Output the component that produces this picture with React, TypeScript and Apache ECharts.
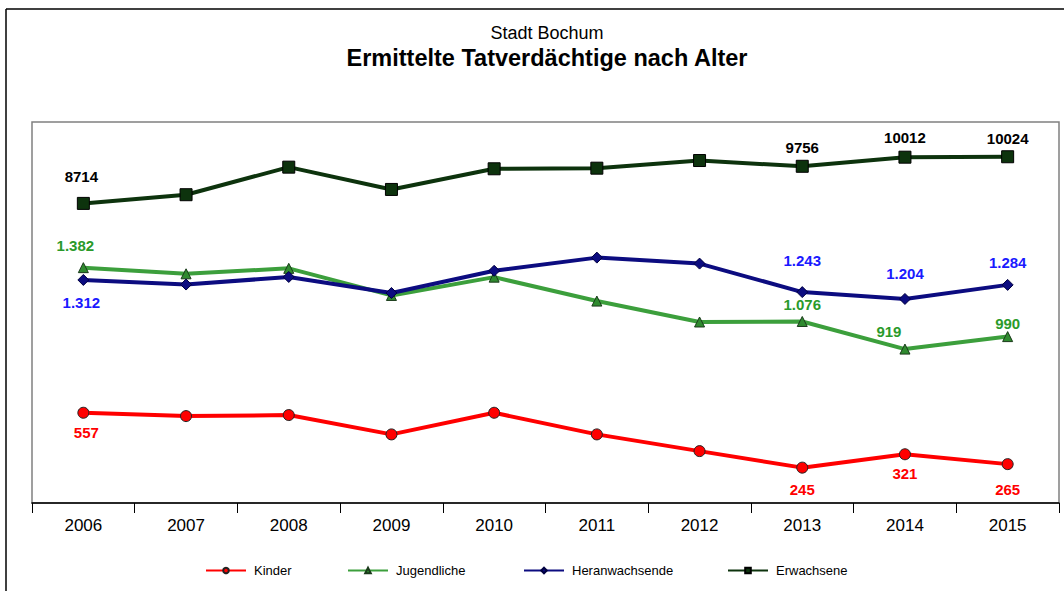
import React, { useEffect, useRef } from "react";
import * as echarts from "echarts";

const years = ["2006", "2007", "2008", "2009", "2010", "2011", "2012", "2013", "2014", "2015"];
const kinder = [557, 538, 544, 434, 557, 434, 339, 245, 321, 265];
const jugendliche = [1382, 1347, 1378, 1224, 1328, 1192, 1073, 1076, 919, 990];
const heranwachsende = [1312, 1286, 1329, 1238, 1364, 1439, 1405, 1243, 1204, 1284];
const erwachsene = [8714, 8958, 9732, 9106, 9686, 9703, 9918, 9756, 10012, 10024];
const seriesNames = ["Kinder", "Jugendliche", "Heranwachsende", "Erwachsene"];

// indices with a data label, and label offsets [dx, dy] from the point
const kinderLabels: Record<number, number[]> = { 0: [3, 20], 7: [0, 22], 8: [0, 19], 9: [0, 25] };
const jugendLabels: Record<number, number[]> = { 0: [-8, -22], 7: [0, -17], 8: [-16, -18], 9: [0, -13] };
const heranLabels: Record<number, number[]> = { 0: [-2, 23], 7: [0, -32], 8: [0, -25], 9: [0, -22] };
const erwLabels: Record<number, number[]> = { 0: [-2, -27], 7: [0, -19], 8: [0, -20], 9: [0, -18] };
const legendLefts = [205, 347, 523, 727];

const fmtDe = (v: number) => {
  const s = String(v);
  return s.length > 3 ? s.slice(0, s.length - 3) + "." + s.slice(-3) : s;
};

function buildData(values: number[], labels: Record<number, number[]>, color: string, fmt: (v: number) => string) {
  return values.map((v, i) => {
    const off = labels[i];
    if (!off) return { value: v };
    return {
      value: v,
      label: {
        show: true,
        position: "inside",
        offset: off,
        color,
        fontSize: 15,
        fontWeight: "bold",
        fontFamily: "Liberation Sans, Arial, sans-serif",
        formatter: () => fmt(v),
      },
    };
  });
}

export default function App() {
  const ref = useRef<HTMLDivElement>(null);
  useEffect(() => {
    if (!ref.current) return;
    const chart = echarts.init(ref.current, null, { renderer: "svg" });
    const font = "Liberation Sans, Arial, sans-serif";
    chart.setOption({
      animation: false,
      backgroundColor: "#ffffff",
      textStyle: { fontFamily: font },
      graphic: [
        { type: "line", shape: { x1: 6, y1: 9, x2: 1064, y2: 9 }, style: { stroke: "#000", lineWidth: 1.5 } },
        { type: "line", shape: { x1: 6, y1: 9, x2: 6, y2: 591 }, style: { stroke: "#000", lineWidth: 1.5 } },
        {
          type: "text",
          x: 547,
          y: 33,
          style: {
            text: "Stadt Bochum",
            fontSize: 18,
            fontFamily: font,
            fill: "#000",
            align: "center",
            verticalAlign: "middle",
          },
        },
        {
          type: "text",
          x: 547,
          y: 58,
          style: {
            text: "Ermittelte Tatverdächtige nach Alter",
            fontSize: 23.5,
            fontWeight: "bold",
            fontFamily: font,
            fill: "#000",
            align: "center",
            verticalAlign: "middle",
          },
        },
      ],
      legend: seriesNames.map((n, i) => ({
        left: legendLefts[i],
        top: 564,
        padding: 0,
        itemWidth: 40,
        itemHeight: 7,
        textStyle: { fontSize: 13, color: "#000", fontFamily: font, padding: [0, 0, 0, 3] },
        data: [n],
      })),
      grid: {
        left: 32,
        right: 5,
        top: 122,
        height: 381,
        show: true,
        borderColor: "#808080",
        borderWidth: 1.5,
        backgroundColor: "transparent",
      },
      xAxis: {
        type: "category",
        data: years,
        boundaryGap: true,
        axisLine: { show: true, lineStyle: { color: "#000", width: 1.5 } },
        axisTick: { show: true, length: 10, lineStyle: { color: "#000" } },
        axisLabel: { fontSize: 17, color: "#000", margin: 14, fontFamily: font },
        splitLine: { show: false },
      },
      yAxis: [
        { type: "value", min: 44, max: 2210, show: false, splitLine: { show: false } },
        { type: "value", min: 300, max: 11000, show: false, splitLine: { show: false } },
      ],
      series: [
        {
          name: "Kinder",
          type: "line",
          yAxisIndex: 0,
          data: buildData(kinder, kinderLabels, "#ff0000", (v) => String(v)),
          symbol: "circle",
          symbolSize: 11,
          lineStyle: { color: "#ff0000", width: 4 },
          itemStyle: { color: "#ff0000", borderColor: "#222", borderWidth: 1 },
          z: 3,
        },
        {
          name: "Jugendliche",
          type: "line",
          yAxisIndex: 0,
          data: buildData(jugendliche, jugendLabels, "#2a9a2a", fmtDe),
          symbol: "triangle",
          symbolSize: 10,
          lineStyle: { color: "#3c9f3c", width: 4 },
          itemStyle: { color: "#2f8a2f", borderColor: "#1a3a1a", borderWidth: 1 },
          z: 3,
        },
        {
          name: "Heranwachsende",
          type: "line",
          yAxisIndex: 0,
          data: buildData(heranwachsende, heranLabels, "#1a1aff", fmtDe),
          symbol: "diamond",
          symbolSize: 11,
          lineStyle: { color: "#0c0c80", width: 4 },
          itemStyle: { color: "#0c0c80", borderColor: "#000040", borderWidth: 1 },
          z: 4,
        },
        {
          name: "Erwachsene",
          type: "line",
          yAxisIndex: 1,
          data: buildData(erwachsene, erwLabels, "#000000", (v) => String(v)),
          symbol: "rect",
          symbolSize: 12,
          lineStyle: { color: "#0d330d", width: 4 },
          itemStyle: { color: "#0d330d", borderColor: "#000", borderWidth: 1 },
          z: 3,
        },
      ],
    });
    return () => chart.dispose();
  }, []);
  return (
    <div
      ref={ref}
      style={{ position: "fixed", left: 0, top: 0, width: 1064, height: 591 }}
    />
  );
}
